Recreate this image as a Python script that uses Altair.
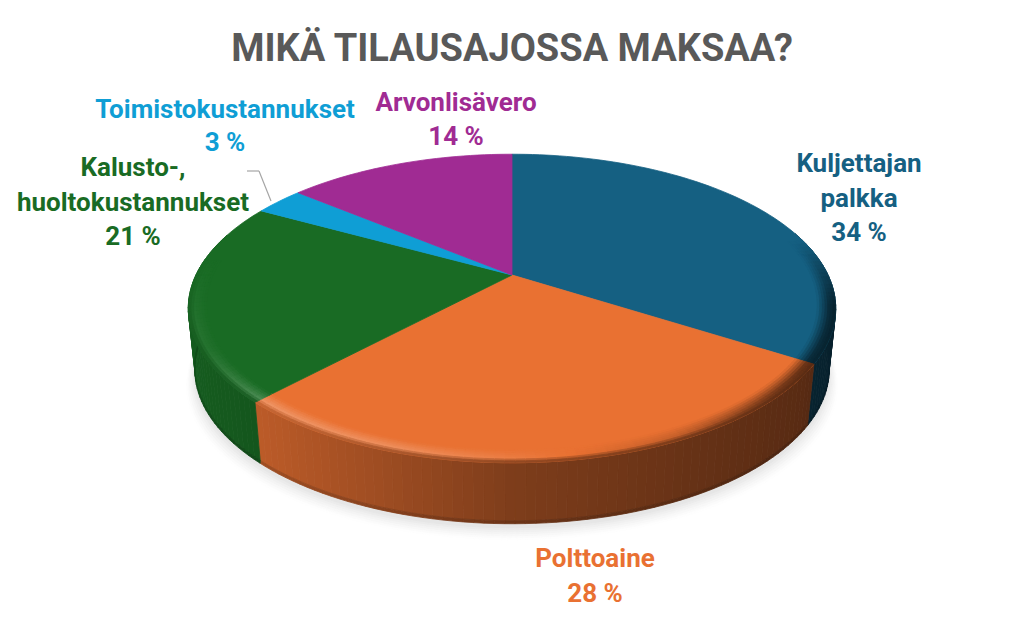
import math
import altair as alt

categories = ["Kuljettajan palkka", "Polttoaine", "Kalusto-, huoltokustannukset", "Toimistokustannukset", "Arvonlisävero"]
shares = [34, 28, 21, 3, 14]
colors = ["#156082", "#E97132", "#196B24", "#0F9ED5", "#A02B93"]
title_text = "MIKÄ TILAUSAJOSSA MAKSAA?"

OFF = 8
CX, CY, A, B, K = 512.0, 275.0, 316.0, 147.0, 0.217
DEPTH, BOTTOM_SCALE = 61.0, 0.98
BEVEL = 0.945


def project(theta_deg, r=1.0):
    t = math.radians(theta_deg)
    u, v = r * math.sin(t), r * math.cos(t)
    w = 1 + K * v
    return CX + A * u / w, CY - B * v / w


def bottom(theta_deg, extra=0.0, dy=0.0):
    x, y = project(theta_deg)
    return CX + (x - CX) * (BOTTOM_SCALE + extra), y + DEPTH + dy


def h2rgb(c):
    return [int(c[i:i + 2], 16) for i in (1, 3, 5)]


def rgb2h(c):
    return "#%02x%02x%02x" % tuple(max(0, min(255, round(x))) for x in c)


def mix(a, b, t):
    return [p + (q - p) * t for p, q in zip(a, b)]


def interp(x, xs, ys):
    if x <= xs[0]:
        return ys[0]
    for i in range(1, len(xs)):
        if x <= xs[i]:
            f = (x - xs[i - 1]) / (xs[i] - xs[i - 1])
            return ys[i - 1] + (ys[i] - ys[i - 1]) * f
    return ys[-1]


def side_factor(x):
    return interp(x, [188, 262, 512, 805, 836], [0.86, 0.80, 0.54, 0.38, 0.34])


def highlight(x):
    return interp(x, [200, 262, 400, 512, 680, 805], [0.05, 0.24, 0.20, 0.08, -0.15, -0.55])


def feature(coords, fill):
    ring = [[round(p[0], 2), round(p[1], 2)] for p in coords]
    ring.append(ring[0])
    return {"type": "Feature", "properties": {"fill": fill},
            "geometry": {"type": "Polygon", "coordinates": [ring]}}


features = []

# soft shadow under the pie
circle = [i * 3.0 for i in range(120)]
for i in range(8):
    f = i / 7
    grow = 0.03 * (1 - f)
    grey = 255 - 25 * f ** 1.5
    features.append(feature([bottom(a, grow, 4 + 14 * (1 - f)) for a in circle], rgb2h([grey] * 3)))

# slice boundaries, clockwise from twelve o'clock
total = sum(shares)
edges = [0.0]
for s in shares:
    edges.append(edges[-1] + 360.0 * s / total)

STEP = 1.5
slices = []
for i, c in enumerate(colors):
    n = max(2, int((edges[i + 1] - edges[i]) / STEP))
    slices.append((h2rgb(c), [edges[i] + (edges[i + 1] - edges[i]) * j / n for j in range(n + 1)]))

# outer wall
for base, angs in slices:
    for a0, a1 in zip(angs[:-1], angs[1:]):
        mid = (a0 + a1) / 2
        if math.cos(math.radians(mid)) > 0.3:
            continue
        x, _ = project(mid)
        col = [v * side_factor(x) for v in base]
        p0, p1 = bottom(a0), bottom(a1)
        q0, q1 = (p0[0], p0[1] - 3), (p1[0], p1[1] - 3)
        features.append(feature([project(a0), project(a1), q1, q0], rgb2h(col)))
        features.append(feature([q0, q1, p1, p0], rgb2h([v * 0.85 for v in col])))

# top faces
for base, angs in slices:
    features.append(feature([(CX, CY)] + [project(a) for a in angs], rgb2h(base)))

# rounded rim on the near side of the top face
BANDS = 7
PEAK = 0.65
for base, angs in slices:
    for a0, a1 in zip(angs[:-1], angs[1:]):
        mid = (a0 + a1) / 2
        v = math.cos(math.radians(mid))
        x, _ = project(mid)
        lo = -0.35 if x < CX else -0.2
        hi = 0.1 if x < CX else 0.25
        weight = interp(v, [lo, hi], [1.0, 0.0])
        if weight <= 0:
            continue
        hl = highlight(x)
        top = mix(base, [255, 255, 255], hl) if hl > 0 else [c * (1 + hl) for c in base]
        wall = [c * side_factor(x) for c in base]
        for b in range(BANDS):
            s0, s1 = b / BANDS, (b + 1) / BANDS
            s = (s0 + s1) / 2
            col = mix(base, top, s / PEAK) if s < PEAK else mix(top, wall, (s - PEAK) / (1 - PEAK))
            col = mix(base, col, weight)
            r0 = 1 - (1 - BEVEL) * (1 - s0)
            r1 = 1 - (1 - BEVEL) * (1 - s1)
            features.append(feature([project(a0, r0), project(a1, r0), project(a1, r1), project(a0, r1)], rgb2h(col)))

shapes = alt.Chart(alt.Data(values=features)).mark_geoshape(strokeWidth=0.8).encode(
    fill=alt.Fill("properties.fill:N", scale=None, legend=None),
    stroke=alt.Stroke("properties.fill:N", scale=None, legend=None),
)

FONT = "Roboto"


def text(label, x, y, color, size=26, line=34.5):
    return alt.Chart(alt.Data(values=[{"t": label}])).mark_text(
        font=FONT, fontWeight="bold", fontSize=size, color=color, align="center",
        baseline="middle", lineBreak="\n", lineHeight=line,
    ).encode(text="t:N", x=alt.value(x - OFF), y=alt.value(y - OFF))


labels = [
    text(title_text, 512, 50, "#595959", size=38),
    text("Kuljettajan\npalkka\n34 %", 859, 164, colors[0]),
    text("Polttoaine\n28 %", 595, 559, colors[1]),
    text("Kalusto-,\nhuoltokustannukset\n21 %", 133, 168, colors[2]),
    text("Toimistokustannukset\n3 %", 225, 110, colors[3], line=33),
    text("Arvonlisävero\n14 %", 456, 103, colors[4], line=34),
]


def rule(x1, y1, x2, y2, color="#A6A6A6", w=1.2):
    return alt.Chart(alt.Data(values=[{"a": 1}])).mark_rule(color=color, strokeWidth=w).encode(
        x=alt.value(x1 - OFF), x2=alt.value(x2 - OFF), y=alt.value(y1 - OFF), y2=alt.value(y2 - OFF))


leader = [rule(247, 171, 259, 171), rule(259, 171, 271, 201)]

chart = alt.layer(shapes, *leader, *labels).project(
    type="identity", scale=1, translate=[-OFF, -OFF]
).properties(
    width=1008, height=601, padding=0, background="white",
    autosize=alt.AutoSizeParams(type="none"),
).configure_view(stroke=None)

chart.save("out.html", embed_options={"renderer": "svg", "actions": False})
